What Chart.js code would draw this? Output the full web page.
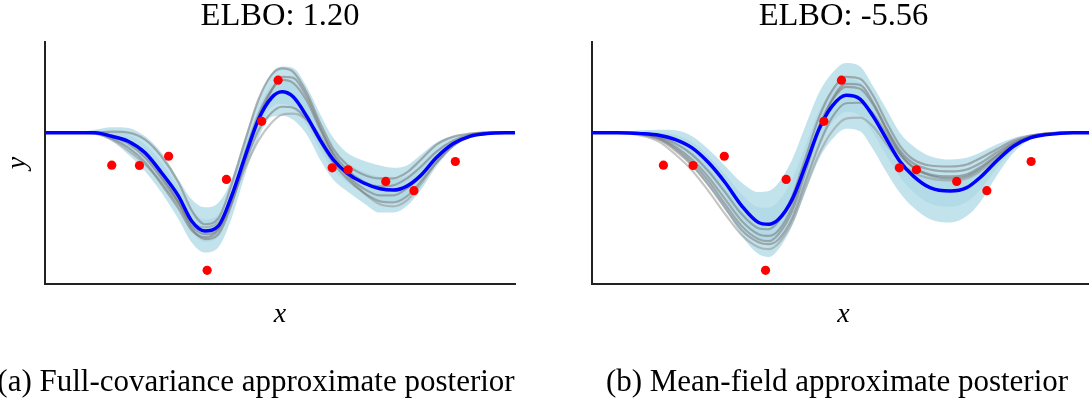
<!DOCTYPE html>
<html lang="en">
<head>
  <meta charset="UTF-8">
  <title>ELBO: full-covariance vs mean-field</title>
  <script src="https://cdn.jsdelivr.net/npm/chart.js"></script>
  <style>
    html, body {
      margin: 0;
      padding: 0;
      background: #fff;
      overflow: hidden;
    }
    body {
      width: 1089px;
      height: 405px;
      position: relative;
    }
    canvas { position: absolute; top: 0; }
  </style>
</head>
<body>
  <canvas id="left" width="530" height="405" style="left:0"></canvas>
  <canvas id="right" width="560" height="405" style="left:547px"></canvas>

  <script>
    // observed points (same data in both panels)
    const obsX = [14.2, 20.1, 26.3, 34.5, 38.6, 46.1, 49.6, 61.1, 64.5, 72.5, 78.5, 87.3];
    const obsY = [-3.27, -3.3, -2.37, -13.83, -4.7, 1.13, 5.27, -3.53, -3.73, -4.9, -5.83, -2.9];

    // left panel: full covariance
    const xs1 = [0, 5, 10.6, 14.2, 17.7, 21.3, 24.8, 28.4, 31.2, 34.0, 36.9, 39.7, 42.6, 45.4, 48.2, 50.4,
                 52.8, 55.7, 58.5, 61.3, 64.2, 67.7, 71.3, 74.1, 77.0, 79.8, 83.3, 86.9, 90.4, 94.0, 100];
    const mean1 = [0, 0, 0, -0.37, -0.87, -2.03, -4.03, -6.37, -8.87, -9.87, -9.37, -6.37, -2.37, 1.3, 3.5, 4.1,
                   3.6, 1.63, -0.7, -2.7, -4.03, -5.03, -5.63, -5.77, -5.37, -4.37, -2.5, -1.1, -0.37, -0.1, 0];
    const upper1 = [0, 0, 0.3, 0.55, 0.47, -0.37, -2.03, -4.7, -6.7, -7.5, -7.03, -4.7, -0.37, 3.3, 5.97, 6.63,
                    6.5, 4.6, 1.9, -0.5, -2.0, -2.8, -3.3, -3.53, -3.3, -2.3, -1.0, -0.35, -0.08, 0, 0];
    const lower1 = [0, 0, -0.2, -0.87, -2.2, -3.87, -6.03, -8.7, -11.03, -12.03, -11.5, -8.6, -4.2, -0.6, 1.6, 1.7,
                    1.3, -0.2, -2.7, -4.7, -5.87, -7.03, -8.03, -8.03, -7.37, -5.87, -3.4, -1.5, -0.45, -0.08, 0];
    const innerUp1 = [0, 0, 0.15, 0.09, -0.2, -1.2, -3.03, -5.53, -7.8, -8.7, -8.2, -5.53, -1.37, 2.3, 4.73, 5.37,
                      5.0, 3.12, 0.6, -1.6, -3.0, -3.9, -4.47, -4.65, -4.33, -3.33, -1.75, -0.73, -0.22, -0.05, 0];
    const innerLo1 = [0, 0, -0.1, -0.62, -1.53, -2.95, -5.03, -7.53, -9.95, -10.95, -10.43, -7.48, -3.28, 0.35, 2.55, 2.9,
                      2.4, 0.72, -1.7, -3.7, -4.95, -6.03, -6.83, -6.9, -6.37, -5.12, -2.95, -1.3, -0.41, -0.09, 0];
    const samples1 = [
      [0, 0, 0, 0.1, 0.0, -0.7, -2.4, -5.0, -7.8, -9.2, -8.6, -5.2, -0.8, 3.3, 5.8, 6.45,
       6.1, 4.0, 1.0, -1.6, -3.2, -4.2, -4.6, -4.6, -4.0, -2.8, -1.2, -0.4, -0.1, 0, 0],
      [0, 0, 0, -0.4, -1.1, -2.5, -4.6, -7.0, -9.3, -10.2, -9.6, -6.6, -2.0, 1.8, 4.3, 5.3,
       5.0, 3.2, 0.4, -2.0, -3.7, -4.9, -5.4, -5.3, -4.6, -3.5, -1.9, -0.8, -0.2, 0, 0],
      [0, 0, -0.05, -0.6, -1.5, -3.0, -5.2, -7.6, -9.8, -10.5, -9.8, -7.0, -3.0, 0.2, 2.0, 2.6,
       2.5, 1.3, -0.9, -3.0, -4.6, -6.0, -6.9, -7.0, -6.4, -5.0, -3.0, -1.3, -0.4, -0.1, 0],
      [0, 0, -0.1, -0.7, -1.8, -3.2, -5.0, -7.2, -9.0, -9.5, -9.0, -6.8, -3.5, -0.8, 1.0, 1.8,
       1.9, 1.3, -0.3, -2.4, -4.3, -6.0, -7.2, -7.4, -6.8, -5.3, -3.0, -1.2, -0.3, 0, 0],
      [0, 0, 0, -0.3, -0.9, -2.2, -4.3, -7.0, -9.6, -10.7, -10.2, -7.2, -2.6, 1.4, 4.2, 5.6,
       5.5, 3.6, 0.6, -2.2, -4.2, -5.6, -6.3, -6.3, -5.6, -4.4, -2.6, -1.0, -0.3, 0, 0]
    ];

    // right panel: mean field
    const xs2 = [0, 5, 9.9, 13.3, 16.6, 19.9, 23.2, 26.5, 29.8, 33.1, 35.1, 37.1, 39.8, 42.4, 45.1, 47.7,
                 50.5, 53.3, 55.9, 58.6, 61.2, 63.9, 67.2, 71.2, 74.5, 77.1, 80.4, 83.8, 87.1, 90.4, 95.7, 100];
    const mean2 = [0, 0, -0.1, -0.27, -0.7, -1.53, -3.03, -5.03, -7.37, -9.03, -9.2, -8.7, -6.7, -3.37, 0.3, 2.63,
                   3.75, 3.37, 1.63, -0.7, -2.87, -4.37, -5.53, -5.87, -5.53, -4.53, -2.87, -1.37, -0.53, -0.2, 0, 0];
    const upper2 = [0, 0, 0.23, 0.3, 0.23, -0.37, -1.7, -3.37, -5.03, -5.97, -5.87, -5.03, -2.7, 0.63, 3.97, 5.97,
                    7.0, 6.63, 4.63, 2.3, 0, -1.37, -2.37, -2.7, -2.53, -2.03, -1.2, -0.53, -0.2, 0, 0, 0];
    const lower2 = [0, 0, -0.2, -0.7, -1.7, -3.37, -5.37, -7.7, -10.37, -12.2, -12.5, -11.7, -9.37, -6.03, -2.7, -0.7,
                    0.4, 0.13, -1.7, -4.03, -6.03, -7.53, -8.7, -9.03, -8.37, -7.03, -4.37, -2.03, -0.7, -0.2, 0, 0];
    const innerUp2 = [0, 0, 0.07, 0.02, -0.24, -0.95, -2.37, -4.2, -6.2, -7.5, -7.55, -6.87, -4.7, -1.37, 2.13, 4.3,
                      5.38, 5.0, 3.13, 0.8, -1.43, -2.87, -3.95, -4.28, -4.03, -3.28, -2.03, -0.95, -0.37, -0.1, 0, 0];
    const innerLo2 = [0, 0, -0.15, -0.49, -1.2, -2.45, -4.2, -6.37, -8.87, -10.6, -10.85, -10.2, -8.03, -4.7, -1.2, 0.97,
                      2.08, 1.75, -0.03, -2.37, -4.45, -5.95, -7.12, -7.45, -6.95, -5.78, -3.62, -1.7, -0.62, -0.2, 0, 0];
    const samples2 = [
      [0, 0, -0.1, -0.4, -1.1, -2.2, -3.9, -6.0, -8.2, -9.6, -9.7, -8.9, -6.4, -2.6, 1.5, 4.2,
       5.6, 5.4, 3.7, 1.0, -1.3, -2.7, -3.3, -3.4, -3.2, -2.6, -1.7, -0.8, -0.3, -0.1, 0, 0],
      [0, 0, -0.1, -0.5, -1.4, -2.7, -4.5, -6.7, -8.9, -10.2, -10.37, -9.8, -7.4, -3.5, 0.6, 3.2,
       4.6, 4.4, 2.8, 0.3, -1.8, -3.1, -3.7, -3.9, -3.7, -3.1, -2.0, -1.0, -0.4, -0.1, 0, 0],
      [0, 0, -0.2, -0.7, -1.8, -3.3, -5.3, -7.6, -9.8, -11.0, -11.2, -10.7, -8.6, -5.0, -1.3, 1.5,
       2.95, 3.0, 1.9, -0.2, -2.2, -3.5, -4.2, -4.4, -4.2, -3.5, -2.3, -1.1, -0.4, -0.1, 0, 0],
      [0, 0, -0.3, -0.9, -2.2, -3.8, -5.9, -8.2, -10.3, -11.5, -11.7, -11.1, -9.0, -5.6, -2.2, 0.1,
       1.4, 1.5, 0.6, -1.2, -2.9, -4.0, -4.6, -4.8, -4.6, -3.9, -2.6, -1.3, -0.5, -0.1, 0, 0],
      [0, 0, -0.15, -0.6, -1.6, -3.0, -4.9, -7.2, -9.4, -10.7, -10.9, -10.2, -7.9, -4.0, 0.2, 3.3,
       4.9, 4.8, 3.0, 0.3, -2.0, -3.5, -4.3, -4.6, -4.4, -3.7, -2.4, -1.2, -0.4, -0.1, 0, 0]
    ];

    const yMin = -15.2, yMax = 9.1;
    const bandColor = 'rgba(173, 216, 230, 0.75)';
    const serif = "'Liberation Serif', 'Times New Roman', serif";

    function pts(xs, ys) {
      return xs.map((x, i) => ({ x: x, y: ys[i] }));
    }

    function lineSet(data, color, width) {
      return {
        data: data,
        showLine: true,
        borderColor: color,
        borderWidth: width,
        pointRadius: 0,
        fill: false,
        cubicInterpolationMode: 'monotone'
      };
    }

    function band(xs, hi, lo) {
      const top = lineSet(pts(xs, hi), 'transparent', 0);
      top.fill = '+1';
      top.backgroundColor = bandColor;
      const bottom = lineSet(pts(xs, lo), 'transparent', 0);
      return [top, bottom];
    }

    // sub-figure caption below the plot
    const captionPlugin = {
      id: 'caption',
      afterDraw(chart, args, opts) {
        const ctx = chart.ctx;
        ctx.save();
        ctx.font = '31px ' + serif;
        ctx.fillStyle = '#000';
        ctx.textAlign = 'center';
        ctx.textBaseline = 'alphabetic';
        ctx.fillText(opts.text, opts.x, 391);
        ctx.restore();
      }
    };

    function makeChart(id, cfg) {
      const datasets = [];
      // first dataset is drawn on top
      datasets.push({
        data: pts(obsX, obsY),
        showLine: false,
        pointRadius: 4.6,
        pointBackgroundColor: '#ff0000',
        pointBorderWidth: 0
      });
      datasets.push(lineSet(pts(cfg.xs, cfg.mean), '#0000ff', 3.5));
      cfg.samples.forEach((s, i) => {
        const c = i === 3 ? 'rgba(150, 150, 150, 0.55)' : 'rgba(120, 120, 120, 0.55)';
        datasets.push(lineSet(pts(cfg.xs, s), c, 2.2));
      });
      datasets.push(...band(cfg.xs, cfg.inUp, cfg.inLo));
      datasets.push(...band(cfg.xs, cfg.up, cfg.lo));

      const axisFont = { family: serif, size: 28, style: 'italic', lineHeight: 1 };

      new Chart(document.getElementById(id), {
        type: 'scatter',
        data: { datasets: datasets },
        plugins: [captionPlugin],
        options: {
          responsive: false,
          animation: false,
          layout: { padding: { left: cfg.padLeft, top: 0, right: cfg.padRight, bottom: 76 } },
          plugins: {
            legend: { display: false },
            tooltip: { enabled: false },
            title: {
              display: true,
              text: cfg.title,
              fullSize: false,
              color: '#000',
              font: { family: serif, size: 32.5, weight: 'normal', lineHeight: 1 },
              padding: { top: 0, bottom: 9.5 }
            },
            caption: { text: cfg.caption, x: cfg.captionX }
          },
          scales: {
            x: {
              type: 'linear', min: 0, max: 100,
              ticks: { display: false },
              grid: { display: false, drawTicks: false },
              border: { display: true, color: '#222', width: 2 },
              title: { display: true, text: 'x', color: '#000', font: axisFont, padding: { top: 17, bottom: 0 } }
            },
            y: {
              min: yMin, max: yMax,
              ticks: { display: false },
              grid: { display: false, drawTicks: false },
              border: { display: true, color: '#222', width: 2 },
              title: { display: cfg.showY, text: 'y', color: '#000', font: axisFont, padding: { top: 4, bottom: 13 } }
            }
          }
        }
      });
    }

    makeChart('left', {
      xs: xs1, mean: mean1, up: upper1, lo: lower1, inUp: innerUp1, inLo: innerLo1, samples: samples1,
      title: 'ELBO: 1.20', caption: '(a) Full-covariance approximate posterior', captionX: 256,
      showY: true, padLeft: 0, padRight: 15
    });
    makeChart('right', {
      xs: xs2, mean: mean2, up: upper2, lo: lower2, inUp: innerUp2, inLo: innerLo2, samples: samples2,
      title: 'ELBO: -5.56', caption: '(b) Mean-field approximate posterior', captionX: 290,
      showY: false, padLeft: 45, padRight: 12
    });
  </script>
</body>
</html>
